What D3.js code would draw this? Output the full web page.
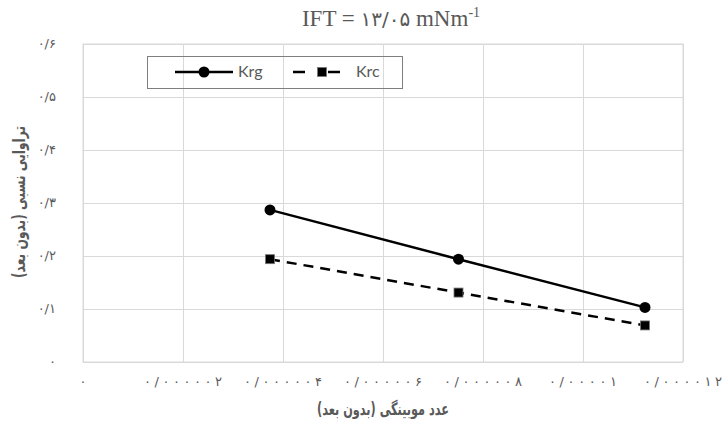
<!DOCTYPE html>
<html>
<head>
<meta charset="utf-8">
<script src="https://cdn.jsdelivr.net/npm/d3@7"></script>
<style>
body { margin: 0; background: #fff; }
</style>
</head>
<body>
<script>
var capNumber = [3.74e-6, 7.51e-6, 11.24e-6]
var krg = [0.287, 0.194, 0.103]
var krc = [0.194, 0.131, 0.069]
var seriesNames = ['Krg', 'Krc']
var xTicks = [0, 2e-6, 4e-6, 6e-6, 8e-6, 1e-5, 1.2e-5]
var yTicks = [0, 0.1, 0.2, 0.3, 0.4, 0.5, 0.6]

var width = 727;
var height = 425;
var margin = {left: 83, right: 44, top: 44, bottom: 63};
var textColor = '#595959';

var svg = d3.select('body')
    .append('svg')
    .attr('width', width)
    .attr('height', height)

// persian digits, '/' as decimal mark
function fa(d) {
    var s = d === 0 ? '0' : d.toFixed(7).replace(/0+$/, '').replace(/\.$/, '')
    return s.replace(/[0-9]/g, c => '۰۱۲۳۴۵۶۷۸۹'[+c]).replace('.', '/')
}

var x = d3.scaleLinear()
    .domain([0, 1.2e-5])
    .range([margin.left, width - margin.right]);

var y = d3.scaleLinear()
    .domain([0, 0.6])
    .range([height - margin.bottom, margin.top]);

// grid
svg.append('g')
    .attr('transform', 'translate(0,' + (height - margin.bottom) + ')')
    .call(d3.axisBottom(x).tickValues(xTicks).tickSize(-(height - margin.bottom - margin.top)).tickFormat(''))
    .call(g => g.selectAll('line').attr('stroke', '#d9d9d9'))
    .call(g => g.select('.domain').remove())

svg.append('g')
    .attr('transform', 'translate(' + margin.left + ',0)')
    .call(d3.axisLeft(y).tickValues(yTicks).tickSize(-(width - margin.left - margin.right)).tickFormat(''))
    .call(g => g.selectAll('line').attr('stroke', '#d9d9d9'))
    .call(g => g.select('.domain').remove())

svg.append('rect')
    .attr('x', margin.left)
    .attr('y', margin.top)
    .attr('width', width - margin.left - margin.right)
    .attr('height', height - margin.top - margin.bottom)
    .attr('fill', 'none')
    .attr('stroke', '#d9d9d9')

// tick labels (spread out like the original font)
svg.append('g').selectAll('text')
    .data(xTicks)
    .join('text')
    .attr('x', d => x(d))
    .attr('y', 386)
    .attr('text-anchor', 'middle')
    .attr('fill', textColor)
    .style('font', '13px "DejaVu Sans"')
    .each(function(d) {
        var t = fa(d)
        if (t.length > 1) d3.select(this).attr('textLength', 10 * t.length - 2).attr('lengthAdjust', 'spacing')
    })
    .text(d => fa(d))

svg.append('g').selectAll('text')
    .data(yTicks)
    .join('text')
    .attr('x', 56)
    .attr('y', d => y(d) + 4)
    .attr('text-anchor', 'end')
    .attr('fill', textColor)
    .style('font', '13px "DejaVu Sans"')
    .text(d => fa(d))

// lines
var data = capNumber.map((c, i) => ({c: c, krg: krg[i], krc: krc[i]}))

var lineKrg = d3.line().x(d => x(d.c)).y(d => y(d.krg))
var lineKrc = d3.line().x(d => x(d.c)).y(d => y(d.krc))

svg.append('path')
    .datum(data)
    .attr('fill', 'none')
    .attr('stroke', '#000')
    .attr('stroke-width', 2.5)
    .attr('d', lineKrg)

svg.append('path')
    .datum(data)
    .attr('fill', 'none')
    .attr('stroke', '#000')
    .attr('stroke-width', 2.5)
    .attr('stroke-dasharray', '10,7')
    .attr('d', lineKrc)

svg.append('g').selectAll('circle')
    .data(data)
    .join('circle')
    .attr('cx', d => x(d.c))
    .attr('cy', d => y(d.krg))
    .attr('r', 5.5)
    .attr('fill', '#000')

svg.append('g').selectAll('rect')
    .data(data)
    .join('rect')
    .attr('x', d => x(d.c) - 4.5)
    .attr('y', d => y(d.krc) - 4.5)
    .attr('width', 9)
    .attr('height', 9)
    .attr('fill', '#000')
    .attr('stroke', '#777')
    .attr('stroke-width', 0.8)

// legend
var legend = svg.append('g')
legend.append('rect')
    .attr('x', 147.5).attr('y', 56.5)
    .attr('width', 255).attr('height', 32)
    .attr('fill', 'none')
    .attr('stroke', '#7f7f7f')

legend.append('line')
    .attr('x1', 175).attr('x2', 233).attr('y1', 72).attr('y2', 72)
    .attr('stroke', '#000').attr('stroke-width', 2.5)
legend.append('circle')
    .attr('cx', 204).attr('cy', 72).attr('r', 5.5).attr('fill', '#000')
legend.append('text')
    .attr('x', 238).attr('y', 77)
    .attr('fill', textColor)
    .style('font', '16px Lato')
    .text(seriesNames[0])

legend.append('line')
    .attr('x1', 293).attr('x2', 351).attr('y1', 72).attr('y2', 72)
    .attr('stroke', '#000').attr('stroke-width', 2.5)
    .attr('stroke-dasharray', '12,12,0,11,12')
legend.append('rect')
    .attr('x', 317.5).attr('y', 67.5).attr('width', 9).attr('height', 9)
    .attr('fill', '#000').attr('stroke', '#777').attr('stroke-width', 0.8)
legend.append('text')
    .attr('x', 356).attr('y', 77)
    .attr('fill', textColor)
    .style('font', '16px Lato')
    .text(seriesNames[1])

// titles
var title = svg.append('text')
    .attr('x', 391)
    .attr('y', 26)
    .attr('text-anchor', 'middle')
    .attr('fill', textColor)
    .style('font', '23px "Liberation Serif"')
title.append('tspan').text('IFT = ')
title.append('tspan').style('font-family', '"DejaVu Sans"').style('font-size', '20px').text('۱۳/۰۵')
title.append('tspan').text(' mNm')
title.append('tspan').attr('dy', -9).style('font-size', '14px').text('-1')

svg.append('text')
    .attr('x', 383)
    .attr('y', 415)
    .attr('text-anchor', 'middle')
    .attr('fill', textColor)
    .attr('textLength', 132)
    .attr('lengthAdjust', 'spacingAndGlyphs')
    .style('font', 'bold 17px "DejaVu Sans"')
    .text('عدد موبینگی (بدون بعد)')

svg.append('text')
    .attr('transform', 'translate(25,202) rotate(-90)')
    .attr('text-anchor', 'middle')
    .attr('fill', textColor)
    .attr('textLength', 152)
    .attr('lengthAdjust', 'spacingAndGlyphs')
    .style('font', 'bold 17px "DejaVu Sans"')
    .text('تراوایی نسبی (بدون بعد)')
</script>
</body>
</html>
